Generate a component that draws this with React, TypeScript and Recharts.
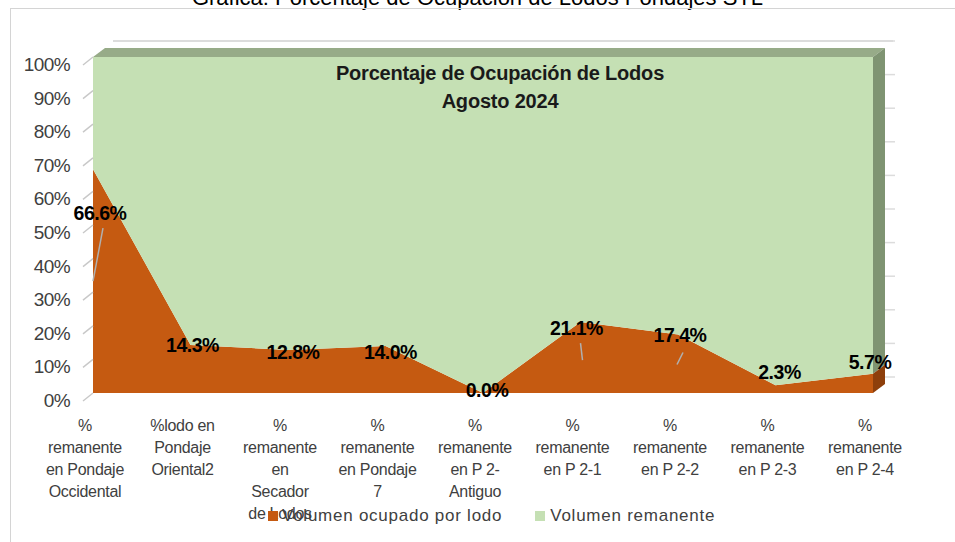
import React from 'react';
import { AreaChart, Area, XAxis, YAxis, LabelList } from 'recharts';

// category labels, one entry per line as drawn under the axis
const categories = [
  ['%', 'remanente', 'en Pondaje', 'Occidental'],
  ['%lodo en', 'Pondaje', 'Oriental2'],
  ['%', 'remanente', 'en', 'Secador', 'de Lodos'],
  ['%', 'remanente', 'en Pondaje', '7'],
  ['%', 'remanente', 'en P 2-', 'Antiguo'],
  ['%', 'remanente', 'en P 2-1'],
  ['%', 'remanente', 'en P 2-2'],
  ['%', 'remanente', 'en P 2-3'],
  ['%', 'remanente', 'en P 2-4'],
];

const ocupado = [66.6, 14.3, 12.8, 14.0, 0.0, 21.1, 17.4, 2.3, 5.7];
const remanente = [33.4, 85.7, 87.2, 86.0, 100.0, 78.9, 82.6, 97.7, 94.3];
const yTicks = [0, 10, 20, 30, 40, 50, 60, 70, 80, 90, 100];

const data = categories.map((lines, i) => ({
  name: lines.join(' '),
  ocupado: ocupado[i],
  remanente: remanente[i],
}));

const W = 955;
const H = 542;
const PLOT = { left: 93, right: 873, top: 57, bottom: 393 };
const DEPTH = { dx: 12, dy: -9 };
const X_AXIS_H = 100;
const Y_AXIS_W = 78;

const ORANGE = '#C55A11';
const GREEN = '#C5E0B4';
const FONT = '"Liberation Sans", Arial, sans-serif';

// label nudges (Excel placed these by hand)
const labelShift = [
  { dx: 7, dy: 44 }, { dx: 2, dy: 0 }, { dx: 5, dy: 2 }, { dx: 5, dy: 6 }, { dx: 4, dy: -3 },
  { dx: -4, dy: 6 }, { dx: 2, dy: 0 }, { dx: 4, dy: -13 }, { dx: -3, dy: -12 },
];
const leaders: Record<number, [number, number, number, number]> = {
  0: [10, 59, 0, 112],
  5: [0, 21, 2, 38],
  6: [5, 18, -1, 30],
};

const yFront = (v: number) => PLOT.bottom - (v / 100) * (PLOT.bottom - PLOT.top);

const YTick = (props: any) => {
  const { y, payload } = props;
  return (
    <g>
      <line x1={PLOT.left - 10} y1={y + 8} x2={PLOT.left} y2={y} stroke="#c8c8c8" strokeWidth={1.5} />
      <text x={70} y={y + 14} textAnchor="end" fontSize={19} fill="#404040" fontFamily={FONT} letterSpacing={-0.6}>
        {payload.value}%
      </text>
    </g>
  );
};

const XTick = (props: any) => {
  const { x, payload, index } = props;
  const idx = typeof index === 'number' ? index : data.findIndex((d) => d.name === payload.value);
  const lines = categories[idx] || [String(payload.value)];
  return (
    <text x={x - 8} y={PLOT.bottom + 38} textAnchor="middle" fontSize={16} fill="#404040" fontFamily={FONT} letterSpacing={-0.3}>
      {lines.map((l, i) => (
        <tspan key={i} x={x - 8} dy={i === 0 ? 0 : 22}>{l}</tspan>
      ))}
    </text>
  );
};

const ValueLabel = (props: any) => {
  const { x, y, value, index } = props;
  const s = labelShift[index] || { dx: 0, dy: 0 };
  const ld = leaders[index];
  return (
    <g>
      {ld && (
        <line x1={x + ld[0]} y1={y + ld[1]} x2={x + ld[2]} y2={y + ld[3]} stroke="#b0b0b0" strokeWidth={1.5} />
      )}
      <text x={x + s.dx} y={y + s.dy + 7} textAnchor="middle" fontSize={19.5} fontWeight="bold" fill="#000"
        fontFamily={FONT} letterSpacing={-0.5}>
        {Number(value).toFixed(1)}%
      </text>
    </g>
  );
};

const Depth = () => {
  const last = ocupado[ocupado.length - 1];
  const r = PLOT.right;
  const { dx, dy } = DEPTH;
  const yo = yFront(last);
  const backTop = PLOT.top - 16;
  return (
    <svg width={W} height={H} style={{ position: 'absolute', left: 0, top: 0 }}>
      <line x1={PLOT.left + 20} y1={backTop} x2={r + 20} y2={backTop} stroke="#dcdcdc" strokeWidth={2} />
      {yTicks.map((t) => (
        <line key={t} x1={r + dx} y1={yFront(t) - 16} x2={r + 22} y2={yFront(t) - 16} stroke="#dcdcdc" strokeWidth={1.5} />
      ))}
      <polygon points={`${PLOT.left},${PLOT.top} ${r},${PLOT.top} ${r + dx},${PLOT.top + dy} ${PLOT.left + dx},${PLOT.top + dy}`} fill="#97AB88" />
      <polygon points={`${r},${PLOT.top} ${r + dx},${PLOT.top + dy} ${r + dx},${yo + dy} ${r},${yo}`} fill="#7F9472" />
      <polygon points={`${r},${yo} ${r + dx},${yo + dy} ${r + dx},${PLOT.bottom + dy} ${r},${PLOT.bottom}`} fill="#8E3F0B" />
    </svg>
  );
};

export default function App() {
  return (
    <div style={{ position: 'absolute', left: 0, top: 0, width: W, height: H, overflow: 'hidden', background: '#fff', fontFamily: FONT }}>
      <div style={{ position: 'absolute', left: 0, width: W, top: -13, textAlign: 'center', fontSize: 22, lineHeight: '22px', color: '#000' }}>
        Gráfica: Porcentaje de Ocupación de Lodos Pondajes STL
      </div>
      <div style={{ position: 'absolute', left: 10, top: 8, width: 980, height: 600, border: '1px solid #d4d4d4' }} />
      <Depth />
      <div style={{ position: 'absolute', left: 0, top: 0 }}>
        <AreaChart width={W} height={H} data={data}
          margin={{ top: PLOT.top, right: W - PLOT.right, bottom: H - PLOT.bottom - X_AXIS_H, left: PLOT.left - Y_AXIS_W }}>
          <XAxis dataKey="name" interval={0} axisLine={false} tickLine={false} height={X_AXIS_H} tick={<XTick />} />
          <YAxis domain={[0, 100]} ticks={yTicks} axisLine={false} tickLine={false} width={Y_AXIS_W} tick={<YTick />} />
          <Area type="linear" dataKey="ocupado" name="Volumen ocupado por lodo" stackId="1" stroke="none"
            fill={ORANGE} fillOpacity={1} isAnimationActive={false}>
            <LabelList dataKey="ocupado" content={<ValueLabel />} />
          </Area>
          <Area type="linear" dataKey="remanente" name="Volumen remanente" stackId="1" stroke="none"
            fill={GREEN} fillOpacity={1} isAnimationActive={false} />
        </AreaChart>
      </div>
      <div style={{ position: 'absolute', left: 300, width: 400, top: 59, textAlign: 'center', fontSize: 20, lineHeight: '28px',
        fontWeight: 'bold', color: '#1a1a1a', letterSpacing: -0.2 }}>
        Porcentaje de Ocupación de Lodos<br />Agosto 2024
      </div>
      <div style={{ position: 'absolute', top: 505, left: 268, height: 22, display: 'flex', alignItems: 'center',
        fontSize: 17, color: '#404040', whiteSpace: 'nowrap' }}>
        <span style={{ width: 10, height: 10, background: ORANGE, display: 'inline-block', marginRight: 4 }} />
        <span style={{ letterSpacing: 0.75 }}>Volumen ocupado por lodo</span>
        <span style={{ width: 10, height: 10, background: GREEN, display: 'inline-block', marginLeft: 33, marginRight: 5 }} />
        <span style={{ letterSpacing: 0.75 }}>Volumen remanente</span>
      </div>
    </div>
  );
}
